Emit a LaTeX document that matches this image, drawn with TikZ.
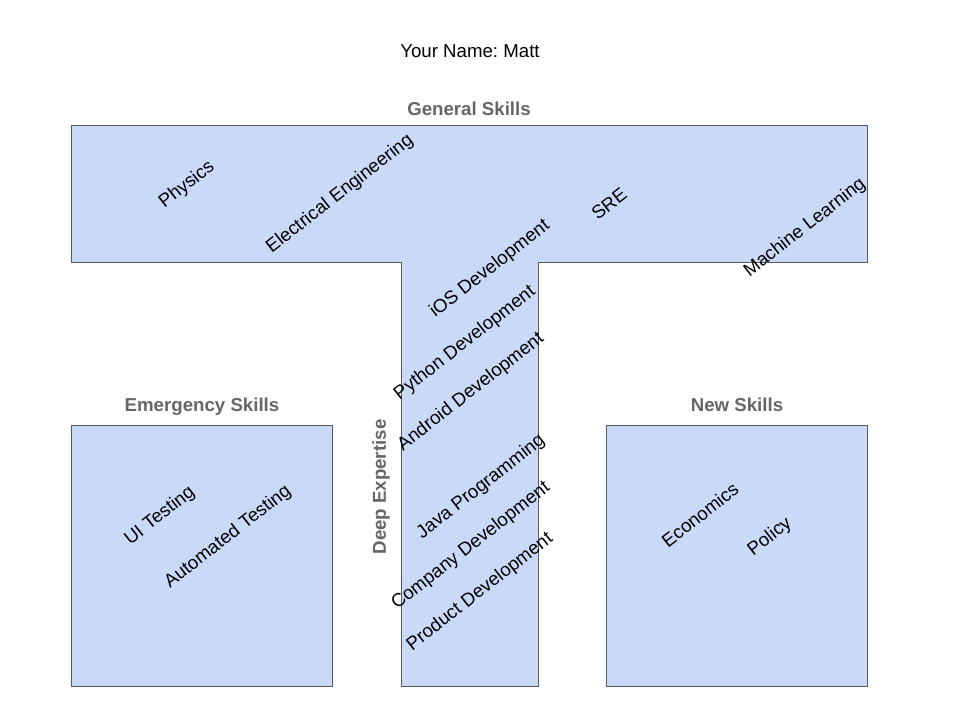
\documentclass[tikz,border=0pt]{standalone}
\usepackage{fontspec}
\setmainfont{Liberation Sans}
\definecolor{boxfill}{HTML}{C9DAF8}
\definecolor{boxline}{HTML}{595959}
\definecolor{hdr}{HTML}{666666}
\begin{document}
\frenchspacing
\begin{tikzpicture}[x=0.75pt,y=-0.75pt,
  area/.style={fill=boxfill,draw=boxline,line width=0.75pt},
  lbl/.style={font=\fontsize{14}{16}\selectfont,inner sep=0pt,rotate=38},
  hdrlbl/.style={font=\fontsize{14}{16}\selectfont\bfseries,text=hdr,inner sep=0pt,text height=0.72em,text depth=0.21em},
  plain/.style={font=\fontsize{14}{16}\selectfont,inner sep=0pt,text height=0.72em,text depth=0.21em}]
\useasboundingbox[fill=white] (0,0) rectangle (960,720);
\draw[area] (71,126) -- (867,126) -- (867,263) -- (538,263) -- (538,686) -- (401,686) -- (401,263) -- (71,263) -- cycle;
\draw[area] (71,425) rectangle (332,686);
\draw[area] (606,425) rectangle (867,686);
\node[plain] (name) at (470,54.5) {Your Name: Matt};
\node[hdrlbl] (gen) at (469,112.5) {General Skills};
\node[hdrlbl] (emg) at (202,408) {Emergency Skills};
\node[hdrlbl] (new) at (737,408) {New Skills};
\node[hdrlbl,rotate=90] (deep) at (382.5,487) {Deep Expertise};
\node[lbl] (phy) at (187,185) {Physics};
\node[lbl] (ee) at (340,194) {Electrical Engineering};
\node[lbl] (sre) at (609,204) {SRE};
\node[lbl] (ml) at (805,228) {Machine Learning};
\node[lbl] (ios) at (490,269) {iOS Development};
\node[lbl] (py) at (465,343) {Python Development};
\node[lbl] (and) at (471,392) {Android Development};
\node[lbl] (java) at (481,487) {Java Programming};
\node[lbl] (comp) at (471,546) {Company Development};
\node[lbl] (prod) at (480,592) {Product Development};
\node[lbl] (ui) at (160,516) {UI Testing};
\node[lbl] (auto) at (228,537) {Automated Testing};
\node[lbl] (eco) at (700,515) {Economics};
\node[lbl] (pol) at (770,537) {Policy};
\end{tikzpicture}
\end{document}
